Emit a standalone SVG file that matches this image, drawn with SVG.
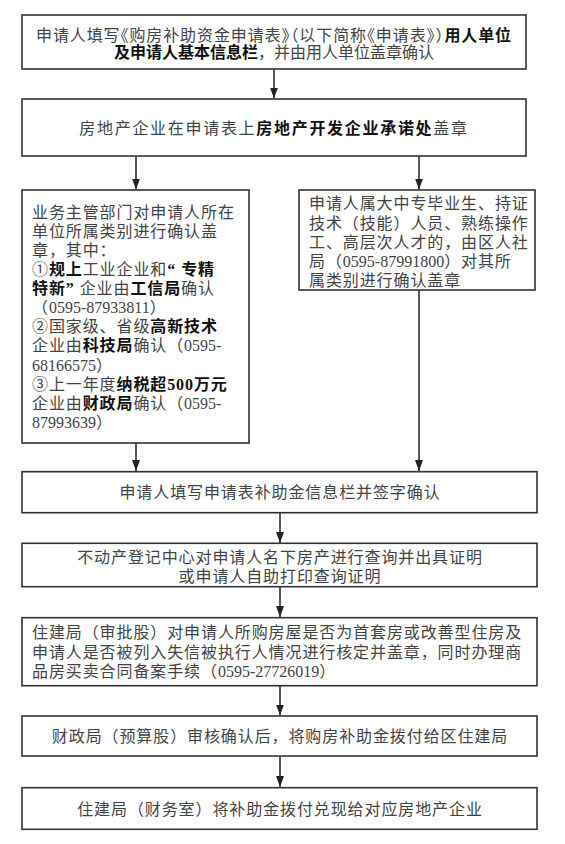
<svg xmlns="http://www.w3.org/2000/svg" width="565" height="844" viewBox="0 0 565 844">
<defs>
<style>
.box{fill:#fff;stroke:#333;stroke-width:1.6}
.t{font-family:"Liberation Serif","Noto Sans CJK SC",serif;font-size:16px;fill:#444;letter-spacing:0.9px}
.c{text-anchor:middle}
.b{font-weight:bold;fill:#111}
.n{letter-spacing:0px}
.h{font-feature-settings:"halt"}
.ln{stroke:#222;stroke-width:1.5;fill:none}
</style>
<marker id="ah" viewBox="0 0 11 8" refX="11" refY="4" markerWidth="11" markerHeight="8" markerUnits="userSpaceOnUse" orient="auto">
<path d="M0,0 L11,4 L0,8 z" fill="#222"/>
</marker>
</defs>
<rect width="565" height="844" fill="#fff"/>

<g id="connectors">
<line class="ln" x1="274" y1="69" x2="274" y2="98.5" marker-end="url(#ah)"/>
<line class="ln" x1="136" y1="156" x2="136" y2="189.5" marker-end="url(#ah)"/>
<line class="ln" x1="419" y1="156" x2="419" y2="189.5" marker-end="url(#ah)"/>
<line class="ln" x1="136" y1="443" x2="136" y2="471" marker-end="url(#ah)"/>
<line class="ln" x1="419" y1="290" x2="419" y2="471" marker-end="url(#ah)"/>
<line class="ln" x1="280" y1="513" x2="280" y2="543" marker-end="url(#ah)"/>
<line class="ln" x1="280" y1="587" x2="280" y2="617" marker-end="url(#ah)"/>
<line class="ln" x1="280" y1="686" x2="280" y2="715.5" marker-end="url(#ah)"/>
<line class="ln" x1="280" y1="756" x2="280" y2="787" marker-end="url(#ah)"/>
</g>

<g id="n1">
<rect class="box" x="22" y="15" width="504" height="54"/>
<text class="t c" x="274" y="40.5">申请人填写<tspan class="h">《</tspan>购房补助资金申请表<tspan class="h">》（</tspan>以下简称<tspan class="h">《</tspan>申请表<tspan class="h">》）</tspan><tspan class="b">用人单位</tspan></text>
<text class="t c" x="274" y="58" style="letter-spacing:0px"><tspan class="b">及申请人基本信息栏</tspan>，并由用人单位盖章确认</text>
</g>

<g id="n2">
<rect class="box" x="22" y="99" width="504" height="57"/>
<text class="t c" x="274" y="134" style="letter-spacing:1.7px">房地产企业在申请表上<tspan class="b">房地产开发企业承诺处</tspan>盖章</text>
</g>

<g id="n3">
<rect class="box" x="22" y="190" width="227" height="253"/>
<text class="t" x="32" y="217.7">业务主管部门对申请人所在</text>
<text class="t" x="32" y="236.8">单位所属类别进行确认盖</text>
<text class="t" x="32" y="255.9">章，其中：</text>
<text class="t" x="32" y="275">①<tspan class="b">规上</tspan>工业企业和<tspan class="b">“<tspan dx="5">专精</tspan></tspan></text>
<text class="t" x="32" y="294.1"><tspan class="b">特新”</tspan><tspan dx="5">企业由</tspan><tspan class="b">工信局</tspan>确认</text>
<text class="t" x="32" y="313.2">（<tspan class="n">0595-87933811</tspan>）</text>
<text class="t" x="32" y="332.3">②国家级、省级<tspan class="b">高新技术</tspan></text>
<text class="t" x="32" y="351.4">企业由<tspan class="b">科技局</tspan>确认（<tspan class="n">0595-</tspan></text>
<text class="t" x="32" y="370.5"><tspan class="n">68166575</tspan>）</text>
<text class="t" x="32" y="389.6">③上一年度<tspan class="b">纳税超500万元</tspan></text>
<text class="t" x="32" y="408.7">企业由<tspan class="b">财政局</tspan>确认（<tspan class="n">0595-</tspan></text>
<text class="t" x="32" y="427.8"><tspan class="n">87993639</tspan>）</text>
</g>

<g id="n4">
<rect class="box" x="299" y="190" width="236" height="100"/>
<text class="t" x="309" y="209.3">申请人属大中专毕业生、持证</text>
<text class="t" x="309" y="228.5">技术（技能）人员、熟练操作</text>
<text class="t" x="309" y="247.7">工、高层次人才的，由区人社</text>
<text class="t" x="309" y="266.9">局（<tspan class="n">0595-87991800</tspan>）对其所</text>
<text class="t" x="309" y="286.1">属类别进行确认盖章</text>
</g>

<g id="n5">
<rect class="box" x="22" y="471.7" width="515" height="41"/>
<text class="t c" x="280" y="498">申请人填写申请表补助金信息栏并签字确认</text>
</g>

<g id="n6">
<rect class="box" x="22" y="543.3" width="515" height="43.4"/>
<text class="t c" x="280" y="563">不动产登记中心对申请人名下房产进行查询并出具证明</text>
<text class="t c" x="280" y="582">或申请人自助打印查询证明</text>
</g>

<g id="n7">
<rect class="box" x="22" y="617.7" width="515" height="68"/>
<text class="t" x="32" y="638.2">住建局（审批股）对申请人所购房屋是否为首套房或改善型住房及</text>
<text class="t" x="32" y="657.7">申请人是否被列入失信被执行人情况进行核定并盖章，同时办理商</text>
<text class="t" x="32" y="677.2">品房买卖合同备案手续（<tspan class="n">0595-27726019</tspan>）</text>
</g>

<g id="n8">
<rect class="box" x="22" y="716" width="515" height="40"/>
<text class="t c" x="280" y="742">财政局（预算股）审核确认后，将购房补助金拨付给区住建局</text>
</g>

<g id="n9">
<rect class="box" x="22" y="787.7" width="515" height="41.6"/>
<text class="t c" x="280" y="814.5">住建局（财务室）将补助金拨付兑现给对应房地产企业</text>
</g>
</svg>
